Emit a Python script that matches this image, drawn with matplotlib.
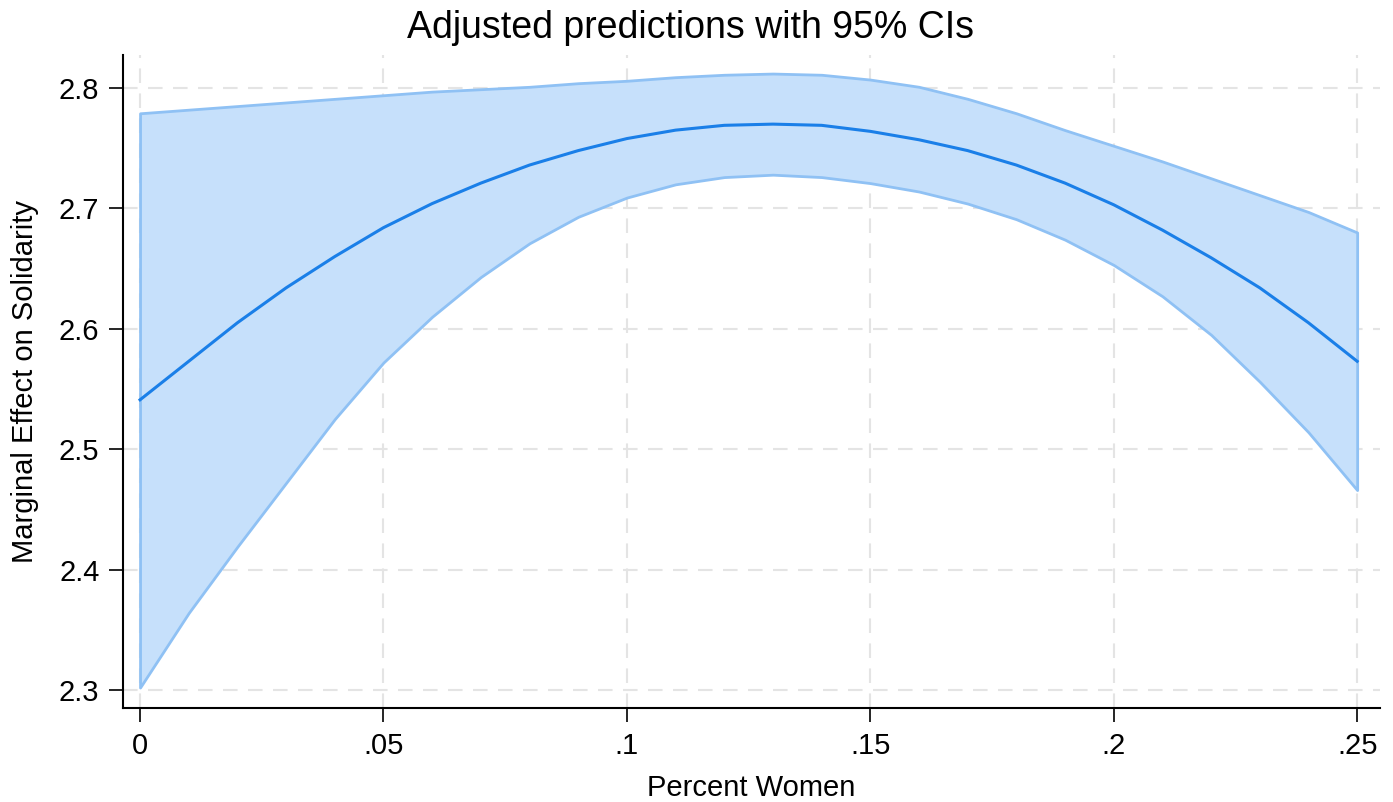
import numpy as np
import matplotlib
matplotlib.use("Agg")
import matplotlib.pyplot as plt

plt.rcParams['font.family'] = ['Liberation Sans', 'DejaVu Sans']

# Percent Women (x) and predicted solidarity with 95% CI
pct_women = [0.00, 0.01, 0.02, 0.03, 0.04, 0.05, 0.06, 0.07, 0.08, 0.09,
             0.10, 0.11, 0.12, 0.13, 0.14, 0.15, 0.16, 0.17, 0.18, 0.19,
             0.20, 0.21, 0.22, 0.23, 0.24, 0.25]
margin = [2.541, 2.573, 2.605, 2.634, 2.660, 2.684, 2.704, 2.721, 2.736, 2.748,
          2.758, 2.765, 2.769, 2.770, 2.769, 2.764, 2.757, 2.748, 2.736, 2.721,
          2.703, 2.682, 2.659, 2.634, 2.605, 2.573]
ci_upper = [2.779, 2.782, 2.785, 2.788, 2.791, 2.794, 2.797, 2.799, 2.801, 2.804,
            2.806, 2.809, 2.811, 2.812, 2.811, 2.807, 2.801, 2.791, 2.779, 2.765,
            2.752, 2.739, 2.725, 2.711, 2.697, 2.680]
ci_lower = [2.302, 2.364, 2.419, 2.472, 2.525, 2.572, 2.610, 2.643, 2.671, 2.693,
            2.709, 2.720, 2.726, 2.728, 2.726, 2.721, 2.714, 2.704, 2.691, 2.674,
            2.653, 2.627, 2.595, 2.556, 2.514, 2.466]

xticks = [0, 0.05, 0.10, 0.15, 0.20, 0.25]
xtick_labels = ['0', '.05', '.1', '.15', '.2', '.25']
yticks = [2.3, 2.4, 2.5, 2.6, 2.7, 2.8]
ytick_labels = ['2.3', '2.4', '2.5', '2.6', '2.7', '2.8']

fig = plt.figure(figsize=(13.93, 8.02), dpi=100, facecolor='w')
ax = fig.add_axes([0.0883, 0.1172, 0.9024, 0.8142])

# CI band
ax.fill_between(pct_women, ci_lower, ci_upper, facecolor='#c6e0fb',
                edgecolor='#8fc1f4', linewidth=2, zorder=2)
ax.plot(pct_women, margin, color='#1a7fe8', linewidth=2.2, zorder=3)

ax.set_xlim(-0.0035, 0.2547)
ax.set_ylim(2.285, 2.8274)
ax.set_xticks(xticks)
ax.set_xticklabels(xtick_labels)
ax.set_yticks(yticks)
ax.set_yticklabels(ytick_labels)

ax.grid(True, color='#e4e4e4', linestyle=(0, (7, 5)), linewidth=1.5, zorder=0)
ax.set_axisbelow(True)

for s in ['top', 'right']:
    ax.spines[s].set_visible(False)
for s in ['left', 'bottom']:
    ax.spines[s].set_linewidth(1.5)
    ax.spines[s].set_color('black')

ax.tick_params(axis='both', direction='out', length=10, width=1.2,
               labelsize=21, colors='black', pad=7)

ax.set_xlabel('Percent Women', fontsize=21, labelpad=10)
ax.set_ylabel('Marginal Effect on Solidarity', fontsize=21, labelpad=14)
# title is centred on the whole figure, not on the axes
fig.text(0.496, 0.965, 'Adjusted predictions with 95% CIs', fontsize=27,
         ha='center', va='center')

plt.savefig('out.png', dpi=100, facecolor='w')
